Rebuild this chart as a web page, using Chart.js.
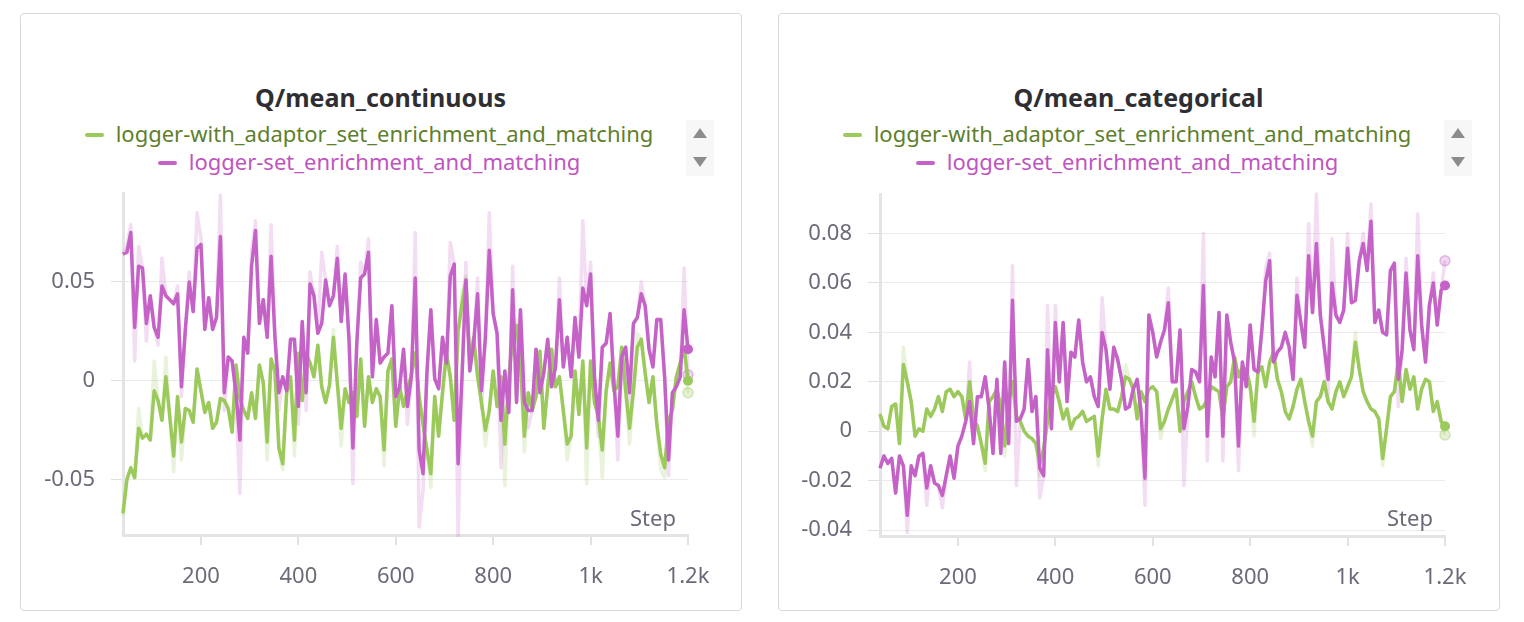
<!DOCTYPE html>
<html>
<head>
<meta charset="utf-8">
<script src="https://cdn.jsdelivr.net/npm/chart.js@4.4.1/dist/chart.umd.min.js"></script>
<style>
body { margin:0; width:1524px; height:622px; background:#fff; position:relative; overflow:hidden; font-family:"Noto Sans", sans-serif; }
.card { position:absolute; top:13px; width:722px; height:598px; border:1.5px solid #d8d8d8; border-radius:4px; box-sizing:border-box; }
.title { position:absolute; top:81px; width:721px; text-align:center; font-weight:700; font-size:25px; line-height:32px; color:#2f2f33; }
.legend { position:absolute; width:698px; text-align:center; font-size:22px; line-height:26px; white-space:nowrap; }
.dash { display:inline-block; width:19px; height:4px; border-radius:2px; vertical-align:middle; margin-right:12px; position:relative; top:-1px; }
.arrows { position:absolute; top:120px; width:28px; height:56px; background:#f7f7f7; }
.up, .down { position:absolute; left:7px; width:0; height:0; border-left:7px solid transparent; border-right:7px solid transparent; }
.up { top:8px; border-bottom:10px solid #8c8c8c; }
.down { top:37px; border-top:10px solid #8c8c8c; }
.step { position:absolute; top:503px; width:80px; text-align:right; font-size:22px; line-height:28px; color:#6b6a78; }
canvas { position:absolute; top:185px; }
</style>
</head>
<body>

<div class="card" style="left:20px"></div>
<div class="card" style="left:778px"></div>

<div class="title" style="left:20px">Q/mean_continuous</div>
<div class="title" style="left:778px">Q/mean_categorical</div>

<div class="legend" style="left:20px;top:120px;color:#5f7f2c"><span class="dash" style="background:#9cc95c"></span>logger-with_adaptor_set_enrichment_and_matching</div>
<div class="legend" style="left:20px;top:148px;color:#bf55c1"><span class="dash" style="background:#c562c7"></span>logger-set_enrichment_and_matching</div>
<div class="legend" style="left:778px;top:120px;color:#5f7f2c"><span class="dash" style="background:#9cc95c"></span>logger-with_adaptor_set_enrichment_and_matching</div>
<div class="legend" style="left:778px;top:148px;color:#bf55c1"><span class="dash" style="background:#c562c7"></span>logger-set_enrichment_and_matching</div>

<div class="arrows" style="left:686px"><div class="up"></div><div class="down"></div></div>
<div class="arrows" style="left:1444px"><div class="up"></div><div class="down"></div></div>

<canvas id="chartCont" width="690" height="410" style="left:30px"></canvas>
<canvas id="chartCat" width="690" height="410" style="left:788px"></canvas>

<div class="step" style="left:596px">Step</div>
<div class="step" style="left:1353px">Step</div>

<script>
// ---------------- data ----------------
var steps = [];
for (var i = 0; i < 146; i++) steps.push(40 + 8 * i);

var xTickValues = [200, 400, 600, 800, 1000, 1200];
var xTickLabels = ["200", "400", "600", "800", "1k", "1.2k"];

var contTickValues = [-0.05, 0, 0.05];
var contTickLabels = ["-0.05", "0", "0.05"];
var catTickValues = [-0.04, -0.02, 0, 0.02, 0.04, 0.06, 0.08];
var catTickLabels = ["-0.04", "-0.02", "0", "0.02", "0.04", "0.06", "0.08"];

// Q/mean_continuous
var contAdaptorSmooth = [
-0.067, -0.050, -0.044, -0.049, -0.024, -0.029, -0.027, -0.030, -0.005, -0.010,
-0.020, 0.002, -0.018, -0.038, -0.008, -0.031, -0.014, -0.015, -0.021, 0.006,
-0.005, -0.016, -0.011, -0.024, -0.021, -0.009, -0.010, -0.014, -0.026, 0.008,
-0.009, -0.015, -0.019, -0.006, -0.019, 0.008, -0.001, -0.031, 0.011, 0.005,
-0.034, -0.042, -0.006, 0.002, -0.030, 0.014, -0.010, 0.014, 0.009, 0.002,
0.018, -0.003, -0.011, -0.002, 0.022, -0.001, -0.024, -0.004, -0.011, -0.006,
-0.018, 0.011, -0.023, 0.002, -0.011, -0.004, -0.008, -0.035, 0.005, 0.011,
-0.023, -0.003, -0.013, -0.005, 0.003, 0.014, -0.008, -0.022, -0.035, -0.047,
-0.008, -0.028, -0.006, 0.014, 0.002, -0.020, 0.025, 0.039, 0.051, 0.009,
0.022, 0.002, -0.011, -0.025, -0.015, 0.005, -0.013, 0.002, -0.032, 0.000,
0.023, 0.028, 0.010, -0.028, -0.006, -0.015, -0.008, 0.015, -0.024, -0.003,
0.016, -0.003, 0.002, -0.015, -0.032, -0.028, 0.005, -0.017, 0.010, -0.034,
0.010, -0.011, -0.018, -0.035, -0.005, 0.009, -0.005, -0.003, 0.017, -0.005,
-0.024, -0.005, 0.017, 0.021, 0.004, -0.011, 0.002, -0.022, -0.037, -0.044,
-0.020, -0.015, 0.002, 0.009, 0.017, 0.000
];
var contAdaptorRaw = [
-0.068, -0.050, -0.044, -0.049, -0.014, -0.029, -0.027, -0.030, 0.010, -0.010,
-0.020, 0.012, -0.018, -0.046, -0.008, -0.040, -0.014, -0.015, -0.021, 0.006,
-0.005, -0.016, -0.011, -0.024, -0.021, -0.009, -0.010, -0.014, -0.026, 0.008,
-0.009, -0.015, -0.019, -0.006, -0.019, 0.008, -0.001, -0.040, 0.011, 0.005,
-0.034, -0.045, -0.006, 0.002, -0.038, 0.014, -0.010, 0.014, 0.009, 0.002,
0.018, -0.003, -0.011, -0.002, 0.026, -0.001, -0.033, -0.004, -0.011, -0.006,
-0.018, 0.011, -0.023, 0.002, -0.011, -0.004, -0.008, -0.043, 0.005, 0.011,
-0.023, -0.003, -0.013, -0.005, 0.003, 0.014, -0.008, -0.022, -0.035, -0.054,
-0.008, -0.028, -0.006, 0.014, 0.002, -0.020, 0.025, 0.045, 0.053, 0.009,
0.022, 0.002, -0.011, -0.033, -0.015, 0.005, -0.013, 0.002, -0.053, 0.000,
0.023, 0.031, 0.010, -0.036, -0.006, -0.015, -0.008, 0.015, -0.024, -0.003,
0.016, -0.003, 0.002, -0.015, -0.040, -0.028, 0.005, -0.017, 0.010, -0.052,
0.010, -0.011, -0.018, -0.049, -0.005, 0.009, -0.005, -0.003, 0.017, -0.005,
-0.032, -0.005, 0.024, 0.021, 0.004, -0.011, 0.002, -0.022, -0.045, -0.049,
-0.020, -0.015, 0.002, 0.009, 0.017, -0.006
];
var contSetSmooth = [
0.064, 0.065, 0.075, 0.027, 0.058, 0.057, 0.029, 0.043, 0.027, 0.022,
0.048, 0.043, 0.041, 0.039, 0.044, -0.003, 0.026, 0.050, 0.035, 0.067,
0.069, 0.026, 0.042, 0.026, 0.032, 0.073, -0.006, 0.012, 0.010, -0.006,
-0.030, 0.022, 0.014, 0.058, 0.076, 0.029, 0.041, 0.022, 0.063, 0.022,
-0.006, 0.002, -0.005, 0.021, 0.021, -0.013, 0.030, -0.006, 0.049, 0.043,
0.024, 0.029, 0.051, 0.038, 0.043, 0.062, 0.030, 0.054, 0.021, -0.034,
0.019, 0.052, 0.054, 0.065, 0.002, 0.031, 0.009, 0.012, 0.014, 0.038,
-0.008, -0.003, 0.016, -0.013, 0.002, 0.052, -0.035, -0.047, 0.004, 0.036,
0.001, -0.004, 0.022, 0.009, 0.053, 0.059, -0.042, 0.002, 0.051, 0.005,
0.019, 0.044, -0.005, 0.022, 0.066, 0.034, 0.024, -0.020, 0.005, -0.016,
0.046, -0.011, 0.036, -0.011, -0.015, -0.015, 0.016, -0.006, 0.004, 0.021,
-0.003, 0.007, 0.041, 0.007, 0.022, 0.002, 0.032, 0.012, 0.047, 0.038,
0.054, 0.002, -0.020, 0.017, 0.019, 0.034, -0.001, -0.028, 0.012, 0.017,
-0.006, 0.029, 0.032, 0.044, 0.038, 0.016, 0.007, 0.031, 0.031, 0.002,
-0.040, -0.006, -0.003, 0.002, 0.036, 0.016
];
var contSetRaw = [
0.064, 0.068, 0.079, 0.010, 0.068, 0.057, 0.020, 0.043, 0.027, 0.018,
0.062, 0.043, 0.041, 0.039, 0.048, -0.008, 0.026, 0.055, 0.035, 0.085,
0.072, 0.026, 0.042, 0.026, 0.032, 0.094, -0.015, 0.012, 0.010, -0.010,
-0.057, 0.022, 0.014, 0.065, 0.081, 0.029, 0.041, 0.022, 0.079, 0.022,
-0.015, 0.002, -0.005, 0.021, 0.021, -0.022, 0.030, -0.015, 0.055, 0.043,
0.024, 0.065, 0.051, 0.038, 0.043, 0.068, 0.030, 0.054, 0.021, -0.052,
0.019, 0.060, 0.054, 0.072, 0.002, 0.031, 0.009, 0.012, 0.014, 0.038,
-0.018, -0.003, 0.016, -0.022, 0.002, 0.075, -0.074, -0.055, 0.004, 0.036,
0.001, -0.004, 0.022, 0.009, 0.070, 0.059, -0.079, 0.002, 0.060, 0.005,
0.019, 0.052, -0.014, 0.022, 0.085, 0.034, 0.024, -0.044, 0.005, -0.016,
0.058, -0.011, 0.036, -0.011, -0.024, -0.015, 0.016, -0.006, 0.004, 0.021,
-0.003, 0.007, 0.052, 0.007, 0.022, 0.002, 0.032, 0.012, 0.081, 0.038,
0.060, 0.002, -0.028, 0.017, 0.019, 0.034, -0.001, -0.040, 0.012, 0.017,
-0.015, 0.029, 0.032, 0.050, 0.038, 0.016, 0.007, 0.031, 0.031, 0.002,
-0.048, -0.006, -0.003, 0.002, 0.057, 0.003
];

// Q/mean_categorical
var catAdaptorSmooth = [
0.007, 0.002, 0.001, 0.010, 0.011, -0.005, 0.027, 0.020, 0.012, -0.002,
0.001, 0.000, 0.009, 0.006, 0.009, 0.014, 0.008, 0.016, 0.017, 0.014,
0.016, 0.014, 0.005, 0.020, 0.005, 0.002, -0.005, -0.013, 0.012, 0.014,
0.017, 0.010, -0.006, 0.012, 0.020, 0.006, 0.004, 0.000, -0.002, -0.003,
-0.005, -0.013, -0.007, 0.004, 0.014, 0.018, 0.012, 0.005, 0.009, 0.001,
0.005, 0.006, 0.008, 0.004, 0.005, 0.006, -0.010, 0.005, 0.017, 0.009,
0.009, 0.008, 0.014, 0.022, 0.021, 0.017, 0.005, 0.016, 0.012, 0.017,
0.018, 0.016, 0.001, 0.004, 0.009, 0.013, 0.017, 0.000, 0.012, 0.016,
0.020, 0.014, 0.009, 0.010, 0.013, 0.018, 0.017, 0.016, 0.005, 0.018,
0.020, 0.030, 0.022, 0.026, 0.025, 0.018, 0.004, 0.024, 0.026, 0.018,
0.028, 0.032, 0.021, 0.016, 0.008, 0.005, 0.010, 0.017, 0.021, 0.012,
0.004, -0.002, 0.012, 0.014, 0.020, 0.012, 0.009, 0.016, 0.020, 0.014,
0.018, 0.022, 0.036, 0.025, 0.016, 0.012, 0.009, 0.008, 0.005, -0.011,
0.001, 0.014, 0.016, 0.028, 0.012, 0.025, 0.017, 0.022, 0.009, 0.017,
0.021, 0.020, 0.008, 0.012, 0.004, 0.002
];
var catAdaptorRaw = [
0.007, 0.002, 0.001, 0.010, 0.011, -0.005, 0.034, 0.020, 0.012, -0.002,
0.001, 0.000, 0.009, 0.006, 0.009, 0.014, 0.008, 0.016, 0.017, 0.014,
0.016, 0.014, 0.005, 0.020, 0.005, 0.002, -0.005, -0.016, 0.012, 0.014,
0.017, 0.010, -0.010, 0.012, 0.020, 0.006, 0.004, 0.000, -0.002, -0.003,
-0.005, -0.018, -0.007, 0.004, 0.014, 0.018, 0.012, 0.005, 0.009, 0.001,
0.005, 0.006, 0.008, 0.004, 0.005, 0.006, -0.014, 0.005, 0.017, 0.009,
0.009, 0.008, 0.014, 0.027, 0.021, 0.017, 0.005, 0.016, 0.012, 0.017,
0.018, 0.016, -0.003, 0.004, 0.009, 0.013, 0.017, 0.000, 0.012, 0.016,
0.020, 0.014, 0.009, 0.010, 0.013, 0.018, 0.017, 0.016, 0.005, 0.018,
0.020, 0.030, 0.022, 0.026, 0.025, 0.018, -0.002, 0.024, 0.026, 0.018,
0.028, 0.032, 0.021, 0.016, 0.008, 0.005, 0.010, 0.017, 0.021, 0.012,
0.004, -0.006, 0.012, 0.014, 0.020, 0.012, 0.009, 0.016, 0.020, 0.014,
0.018, 0.022, 0.040, 0.025, 0.016, 0.012, 0.009, 0.008, 0.005, -0.014,
0.001, 0.014, 0.016, 0.028, 0.012, 0.025, 0.017, 0.022, 0.009, 0.017,
0.021, 0.020, 0.008, 0.012, 0.004, -0.0015
];
var catSetSmooth = [
-0.015, -0.010, -0.013, -0.011, -0.025, -0.010, -0.014, -0.034, -0.014, -0.018,
-0.010, -0.009, -0.023, -0.014, -0.021, -0.022, -0.026, -0.018, -0.010, -0.019,
-0.006, -0.002, 0.004, 0.012, -0.005, 0.014, 0.014, 0.022, 0.009, -0.009,
0.021, -0.009, 0.028, -0.005, 0.053, 0.004, 0.005, 0.009, 0.029, 0.008,
0.014, -0.015, -0.018, 0.033, 0.001, 0.044, 0.020, 0.044, 0.012, 0.032,
0.030, 0.045, 0.028, 0.020, 0.022, 0.014, 0.010, 0.040, 0.033, 0.017,
0.034, 0.029, 0.021, 0.009, 0.010, 0.017, 0.021, 0.008, -0.019, 0.047,
0.040, 0.030, 0.036, 0.041, 0.052, 0.020, 0.020, 0.041, 0.001, 0.010,
0.025, 0.024, 0.020, 0.059, -0.002, 0.030, 0.022, 0.048, -0.002, 0.047,
0.036, 0.028, -0.006, 0.028, 0.018, 0.043, 0.025, 0.024, 0.041, 0.061,
0.069, 0.028, 0.032, 0.034, 0.040, 0.034, 0.021, 0.055, 0.044, 0.034,
0.071, 0.048, 0.076, 0.047, 0.034, 0.021, 0.060, 0.047, 0.044, 0.049,
0.074, 0.052, 0.053, 0.069, 0.076, 0.065, 0.085, 0.044, 0.049, 0.040,
0.039, 0.065, 0.068, 0.021, 0.033, 0.064, 0.041, 0.033, 0.071, 0.043,
0.028, 0.051, 0.060, 0.043, 0.057, 0.059
];
var catSetRaw = [
-0.015, -0.010, -0.013, -0.011, -0.025, -0.010, -0.014, -0.041, -0.014, -0.018,
-0.010, -0.009, -0.030, -0.014, -0.021, -0.022, -0.031, -0.018, -0.010, -0.019,
-0.006, -0.002, 0.004, 0.028, -0.005, 0.014, 0.014, 0.022, 0.009, -0.009,
0.021, -0.009, 0.028, -0.005, 0.067, -0.022, 0.005, 0.009, 0.029, 0.008,
0.014, -0.027, -0.018, 0.051, 0.001, 0.051, 0.020, 0.044, 0.012, 0.032,
0.030, 0.045, 0.028, 0.020, 0.022, 0.014, 0.010, 0.054, 0.033, 0.017,
0.034, 0.029, 0.021, 0.009, 0.010, 0.017, 0.021, 0.008, -0.030, 0.047,
0.040, 0.030, 0.036, 0.041, 0.058, 0.020, 0.020, 0.041, -0.022, 0.010,
0.025, 0.024, 0.020, 0.080, -0.012, 0.030, 0.022, 0.048, -0.012, 0.047,
0.036, 0.028, -0.016, 0.028, 0.018, 0.043, 0.025, 0.024, 0.041, 0.066,
0.072, 0.028, 0.032, 0.034, 0.040, 0.034, 0.021, 0.062, 0.044, 0.034,
0.084, 0.048, 0.096, 0.047, 0.034, 0.012, 0.078, 0.047, 0.044, 0.049,
0.080, 0.052, 0.053, 0.069, 0.080, 0.065, 0.092, 0.044, 0.049, 0.040,
0.039, 0.065, 0.068, 0.010, 0.033, 0.070, 0.041, 0.033, 0.088, 0.043,
0.028, 0.051, 0.064, 0.043, 0.057, 0.069
];
//----------------------------------------

var GREEN = "#9cc95c";
var GREEN_FADE = "rgba(156,201,92,0.22)";
var MAG = "#c562c7";
var MAG_FADE = "rgba(197,98,199,0.22)";
var TICK_COLOR = "#6b6a78";

Chart.defaults.font.family = "'Noto Sans', sans-serif";
Chart.defaults.font.size = 22;
Chart.defaults.color = TICK_COLOR;

function toPoints(vals) {
    return vals.map(function (v, i) { return { x: steps[i], y: v }; });
}

function lastOnly(r) {
    return function (ctx) { return ctx.dataIndex === steps.length - 1 ? r : 0; };
}

function series(vals, color, faded, order) {
    return {
        data: toPoints(vals),
        borderColor: faded ? (color == GREEN ? GREEN_FADE : MAG_FADE) : color,
        borderWidth: faded ? 3.5 : 3.5,
        tension: 0,
        borderJoinStyle: "round",
        pointRadius: lastOnly(5),
        pointHoverRadius: 0,
        pointBackgroundColor: faded ? (color == GREEN ? "rgba(156,201,92,0.25)" : "rgba(197,98,199,0.25)") : color,
        pointBorderColor: faded ? (color == GREEN ? "rgba(156,201,92,0.4)" : "rgba(197,98,199,0.4)") : color,
        pointBorderWidth: faded ? 1.5 : 0,
        order: order,
        clip: { left: 2, top: 2, right: 8, bottom: 2 }
    };
}

function makeChart(id, adaptorS, adaptorR, setS, setR, yMin, yMax, yVals, yLabels, padTop, padRight, yWidth, xHeight) {
    var ctx = document.getElementById(id).getContext("2d");
    return new Chart(ctx, {
        type: "line",
        data: {
            datasets: [
                series(setS, MAG, false, 1),
                series(adaptorS, GREEN, false, 2),
                series(setR, MAG, true, 3),
                series(adaptorR, GREEN, true, 4)
            ]
        },
        options: {
            responsive: false,
            devicePixelRatio: 1,
            animation: false,
            layout: { padding: { top: padTop, right: padRight, left: 0, bottom: 0 } },
            plugins: { legend: { display: false }, title: { display: false }, tooltip: { enabled: false } },
            scales: {
                x: {
                    type: "linear",
                    min: 40,
                    max: 1200,
                    afterBuildTicks: function (s) { s.ticks = xTickValues.map(function (v) { return { value: v }; }); },
                    afterFit: function (s) { s.height = xHeight; s.paddingLeft = 0; s.paddingRight = 0; },
                    ticks: {
                        autoSkip: false,
                        maxRotation: 0,
                        padding: 19,
                        color: TICK_COLOR,
                        callback: function (v, i) { return xTickLabels[i]; }
                    },
                    grid: { drawOnChartArea: false, tickLength: 10, color: "#e2e2e2", lineWidth: 2 },
                    border: { display: true, color: "#e4e4e4", width: 3 }
                },
                y: {
                    min: yMin,
                    max: yMax,
                    afterBuildTicks: function (s) { s.ticks = yVals.map(function (v) { return { value: v }; }); },
                    afterFit: function (s) { s.width = yWidth; s.paddingTop = 0; s.paddingBottom = 0; },
                    ticks: {
                        padding: 16,
                        color: TICK_COLOR,
                        callback: function (v, i) { return yLabels[i]; }
                    },
                    grid: { color: "#ebebeb", lineWidth: 1, tickLength: 12, tickColor: "#e0e0e0" },
                    border: { display: true, color: "#e4e4e4", width: 3 }
                }
            }
        }
    });
}

var chartCont = makeChart("chartCont", contAdaptorSmooth, contAdaptorRaw, contSetSmooth, contSetRaw,
    -0.078, 0.095, contTickValues, contTickLabels, 8, 32, 93, 60);
var chartCat = makeChart("chartCat", catAdaptorSmooth, catAdaptorRaw, catSetSmooth, catSetRaw,
    -0.0424, 0.096, catTickValues, catTickLabels, 9, 33, 92, 59);
</script>
</body>
</html>
